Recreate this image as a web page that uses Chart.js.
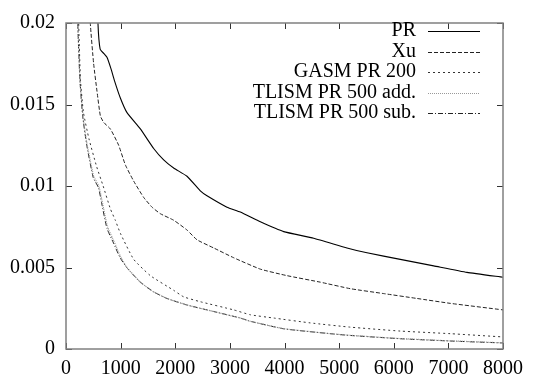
<!DOCTYPE html>
<html>
<head>
<meta charset="utf-8">
<script src="https://cdn.jsdelivr.net/npm/chart.js@4.4.1/dist/chart.umd.min.js"></script>
<style>
  body { margin: 0; background: #fff; }
  canvas { display: block; }
</style>
</head>
<body>
<canvas id="grafica" width="545" height="378"></canvas>
<script>
// ticks
var xTicks = [0, 1000, 2000, 3000, 4000, 5000, 6000, 7000, 8000];
var yTicks = [0, 0.005, 0.01, 0.015, 0.02];
var yTickLabels = ['0', '0.005', '0.01', '0.015', '0.02'];

var labels = ['PR', 'Xu', 'GASM PR 200', 'TLISM PR 500 add.', 'TLISM PR 500 sub.'];

// PR
var prX = [560, 585, 625, 700, 750, 823, 884, 995, 1117, 1361, 1605, 1788, 1971, 2215, 2459, 2581, 2947, 3191, 3558, 3985, 4534, 5144, 5510, 6120, 6731, 7341, 8000];
var prY = [0.024, 0.020, 0.0184, 0.0181, 0.0179, 0.0172, 0.0165, 0.0154, 0.0145, 0.0135, 0.0123, 0.0116, 0.0111, 0.0106, 0.0097, 0.0094, 0.0087, 0.0084, 0.0078, 0.0072, 0.0068, 0.0062, 0.0059, 0.0055, 0.0051, 0.0047, 0.0044];

// Xu
var xuX = [430, 445, 506, 568, 629, 690, 812, 964, 1086, 1239, 1422, 1575, 1727, 1971, 2215, 2398, 2703, 3069, 3558, 4046, 4656, 5205, 5815, 6426, 7036, 8000];
var xuY = [0.023, 0.020, 0.0175, 0.0158, 0.0143, 0.0139, 0.0135, 0.0125, 0.0113, 0.0103, 0.0093, 0.0087, 0.0083, 0.0079, 0.0073, 0.0067, 0.0062, 0.0056, 0.0049, 0.0045, 0.0041, 0.0037, 0.0034, 0.0031, 0.0028, 0.0024];

// GASM PR 200
var gasmX = [215, 232, 265, 320, 420, 560, 680, 812, 903, 995, 1239, 1544, 1971, 2154, 2459, 3069, 3374, 3802, 4473, 5205, 6120, 7036, 8000];
var gasmY = [0.023, 0.020, 0.0165, 0.0145, 0.0129, 0.0112, 0.0100, 0.0086, 0.0079, 0.0071, 0.0055, 0.0045, 0.0036, 0.0032, 0.0029, 0.0024, 0.0021, 0.0019, 0.0016, 0.00134, 0.0011, 0.00094, 0.00074];

// TLISM PR 500 add.
var addX = [195, 215, 255, 310, 384, 506, 600, 660, 760, 880, 995, 1117, 1361, 1605, 1849, 2215, 2703, 3191, 3374, 3985, 4900, 5205, 6120, 7036, 8000];
var addY = [0.023, 0.020, 0.0165, 0.0143, 0.0126, 0.0106, 0.0100, 0.0091, 0.0075, 0.0066, 0.0057, 0.0050, 0.0041, 0.0035, 0.0031, 0.0027, 0.0023, 0.0019, 0.0017, 0.00125, 0.00092, 0.00084, 0.00064, 0.0005, 0.00038];

// TLISM PR 500 sub.
var subX = [195, 215, 255, 305, 380, 500, 595, 650, 750, 870, 990, 1110, 1361, 1605, 1849, 2215, 2703, 3191, 3374, 3985, 4900, 5205, 6120, 7036, 8000];
var subY = [0.023, 0.020, 0.0165, 0.0143, 0.0125, 0.0105, 0.0099, 0.0090, 0.0074, 0.0065, 0.0056, 0.0050, 0.0041, 0.0035, 0.0031, 0.0027, 0.0023, 0.0019, 0.0017, 0.00124, 0.00092, 0.00083, 0.00063, 0.00049, 0.00037];

function puntos(xs, ys) {
    return xs.map(function(x, i) { return { x: x, y: ys[i] }; });
}

var fuente = '"Liberation Serif", "Times New Roman", serif';

/* marco, ticks hacia adentro y leyenda estilo gnuplot */
var marcoGnuplot = {
    id: 'marcoGnuplot',
    afterDraw: function(chart) {
        var ctx = chart.ctx;
        var a = chart.chartArea;
        var sx = chart.scales.x, sy = chart.scales.y;
        ctx.save();

        ctx.strokeStyle = '#333';
        ctx.lineWidth = 1;
        ctx.beginPath();
        xTicks.forEach(function(v) {
            var px = Math.round(sx.getPixelForValue(v)) + 0.5;
            ctx.moveTo(px, a.bottom); ctx.lineTo(px, a.bottom - 6);
            ctx.moveTo(px, a.top); ctx.lineTo(px, a.top + 6);
        });
        yTicks.forEach(function(v) {
            var py = Math.round(sy.getPixelForValue(v)) + 0.5;
            ctx.moveTo(a.left, py); ctx.lineTo(a.left + 6, py);
            ctx.moveTo(a.right, py); ctx.lineTo(a.right - 6, py);
        });
        ctx.stroke();

        ctx.strokeStyle = '#808080';
        ctx.lineWidth = 1.5;
        ctx.strokeRect(a.left, a.top, a.right - a.left, a.bottom - a.top);

        // leyenda
        ctx.font = '20px ' + fuente;
        ctx.textAlign = 'right';
        ctx.textBaseline = 'middle';
        chart.data.datasets.forEach(function(ds, i) {
            var y = 31 + i * 20.5;
            ctx.fillStyle = '#000';
            ctx.fillText(ds.label, 416, y);
            ctx.strokeStyle = ds.borderColor;
            ctx.lineWidth = ds.borderWidth;
            ctx.setLineDash(ds.borderDash || []);
            ctx.beginPath();
            ctx.moveTo(428, Math.round(y) + 0.5);
            ctx.lineTo(480, Math.round(y) + 0.5);
            ctx.stroke();
        });
        ctx.setLineDash([]);
        ctx.restore();
    }
};

var config = {
    type: 'line',
    data: {
        datasets: [{
            label: labels[0],
            data: puntos(prX, prY),
            borderColor: '#000',
            borderWidth: 1.1,
            borderDash: []
        }, {
            label: labels[1],
            data: puntos(xuX, xuY),
            borderColor: '#222',
            borderWidth: 1,
            borderDash: [4, 2]
        }, {
            label: labels[2],
            data: puntos(gasmX, gasmY),
            borderColor: '#333',
            borderWidth: 1,
            borderDash: [2, 3]
        }, {
            label: labels[3],
            data: puntos(addX, addY),
            borderColor: '#999',
            borderWidth: 1.2,
            borderDash: [1, 1]
        }, {
            label: labels[4],
            data: puntos(subX, subY),
            borderColor: '#222',
            borderWidth: 1,
            borderDash: [5, 2, 1, 2]
        }]
    },
    options: {
        responsive: false,
        animation: false,
        layout: { padding: { top: 16, right: 42, left: 0, bottom: 0 } },
        elements: { point: { radius: 0 }, line: { tension: 0.15 } },
        plugins: { legend: { display: false }, tooltip: { enabled: false } },
        scales: {
            x: {
                type: 'linear',
                min: 0,
                max: 8000,
                afterBuildTicks: function(s) { s.ticks = xTicks.map(function(v) { return { value: v }; }); },
                afterFit: function(s) { s.height = 29; },
                grid: { display: false, drawTicks: false },
                border: { display: false },
                ticks: {
                    padding: 8,
                    maxRotation: 0,
                    autoSkip: false,
                    color: '#000',
                    font: { family: fuente, size: 20 },
                    callback: function(v) { return String(v); }
                }
            },
            y: {
                type: 'linear',
                min: 0,
                max: 0.02,
                afterBuildTicks: function(s) { s.ticks = yTicks.map(function(v) { return { value: v }; }); },
                afterFit: function(s) { s.width = 66; },
                grid: { display: false, drawTicks: false },
                border: { display: false },
                ticks: {
                    padding: 11,
                    autoSkip: false,
                    color: '#000',
                    font: { family: fuente, size: 20 },
                    callback: function(v) {
                        var i = yTicks.indexOf(v);
                        return i >= 0 ? yTickLabels[i] : '';
                    }
                }
            }
        }
    },
    plugins: [marcoGnuplot]
};

var ctx = document.getElementById('grafica').getContext('2d');
window.grafica = new Chart(ctx, config);
</script>
</body>
</html>
